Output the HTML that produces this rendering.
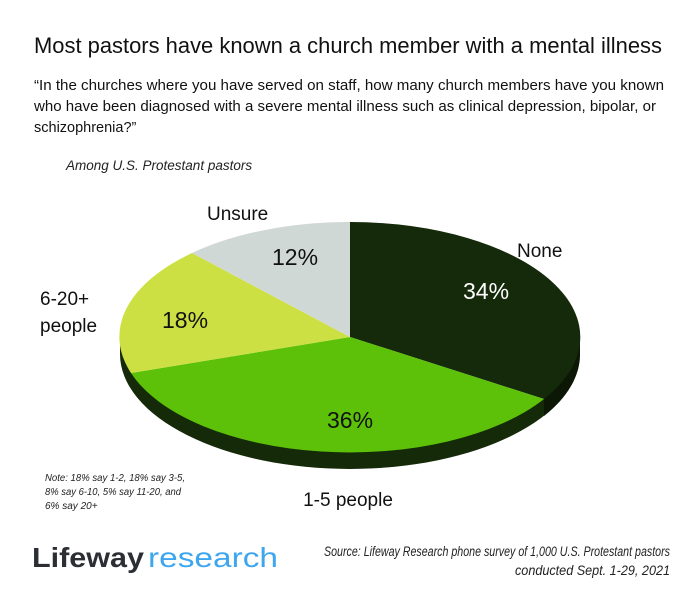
<!DOCTYPE html>
<html><head><meta charset="utf-8"><style>
body{margin:0;background:#fff;}
svg text{font-family:"Liberation Sans",sans-serif;}
</style></head><body>
<svg width="700" height="606" viewBox="0 0 700 606" xmlns="http://www.w3.org/2000/svg">
<rect width="700" height="606" fill="#fff"/>
<text x="34" y="53" font-size="22" fill="#111" textLength="628" lengthAdjust="spacingAndGlyphs">Most pastors have known a church member with a mental illness</text>
<text x="34" y="90" font-size="14.5" fill="#111" textLength="630" lengthAdjust="spacingAndGlyphs">“In the churches where you have served on staff, how many church members have you known</text>
<text x="34" y="111" font-size="14.5" fill="#111" textLength="622" lengthAdjust="spacingAndGlyphs">who have been diagnosed with a severe mental illness such as clinical depression, bipolar, or</text>
<text x="34" y="132" font-size="14.5" fill="#111">schizophrenia?”</text>
<text x="66" y="170" font-size="13.5" font-style="italic" fill="#222">Among U.S. Protestant pastors</text>
<path d="M120,337 A230,115 0 0 0 580,337 L580,354 A230,115 0 0 1 120,354 Z" fill="#152a09"/>
<path d="M544,399 A230,115 0 0 1 580,337 L580,354 A230,115 0 0 1 544,416 Z" fill="#0c1805"/>
<path d="M350,337 L350,222 A230,115 0 0 1 544,399 Z" fill="#142a0a"/>
<path d="M350,337 L544,399 A230,115 0 0 1 131,373 Z" fill="#5cc108"/>
<path d="M350,337 L131,373 A230,115 0 0 1 192,253 Z" fill="#cde043"/>
<path d="M350,337 L192,253 A230,115 0 0 1 350,222 Z" fill="#d0d8d6"/>
<text x="272" y="265" font-size="23" fill="#111">12%</text>
<text x="463" y="299" font-size="23" fill="#fff">34%</text>
<text x="162" y="328" font-size="23" fill="#111">18%</text>
<text x="327" y="428" font-size="23" fill="#111">36%</text>
<text x="207" y="220" font-size="19" fill="#111">Unsure</text>
<text x="517" y="257" font-size="19" fill="#111">None</text>
<text x="40" y="305" font-size="19" fill="#111">6-20+</text>
<text x="40" y="332" font-size="19" fill="#111">people</text>
<text x="348" y="506" font-size="19" fill="#111" text-anchor="middle">1-5 people</text>
<g font-size="10" font-style="italic" fill="#222">
<text x="45" y="481" textLength="140" lengthAdjust="spacingAndGlyphs">Note:  18% say 1-2, 18% say 3-5,</text>
<text x="45" y="495" textLength="136" lengthAdjust="spacingAndGlyphs">8% say 6-10, 5% say 11-20, and</text>
<text x="45" y="509">6% say 20+</text>
</g>
<text x="32" y="567" font-size="28" font-weight="bold" fill="#2b2f33" textLength="112" lengthAdjust="spacingAndGlyphs">Lifeway</text>
<text x="148" y="567" font-size="28" fill="#3ea6ee" textLength="130" lengthAdjust="spacingAndGlyphs">research</text>
<g font-size="13.5" font-style="italic" fill="#222" text-anchor="end">
<text x="670" y="556" textLength="346" lengthAdjust="spacingAndGlyphs">Source: Lifeway Research phone survey of 1,000 U.S. Protestant pastors</text>
<text x="670" y="575" textLength="155" lengthAdjust="spacingAndGlyphs">conducted Sept. 1-29, 2021</text>
</g>
</svg>
</body></html>
